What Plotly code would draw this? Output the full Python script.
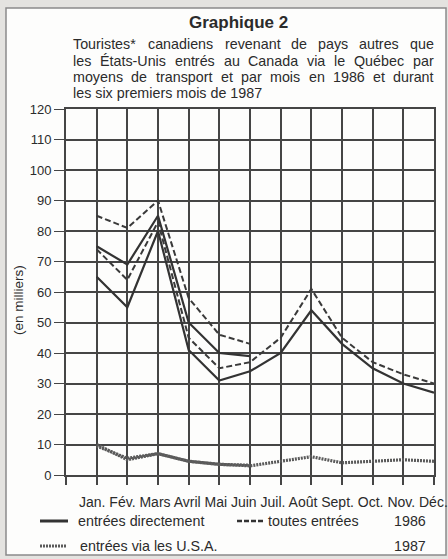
import plotly.graph_objects as go

# ---------------- data ----------------
months = ["Jan.", "Fév.", "Mars", "Avril", "Mai", "Juin", "Juil.", "Août",
          "Sept.", "Oct.", "Nov.", "Déc."]
direct_1986 = [65, 55, 80, 41, 31, 34, 40, 54, 43, 35, 30, 27]
toutes_1986 = [74, 64, 83, 45, 35, 37, 45, 61, 45, 37, 33, 30]
via_usa_1986 = [10, 5, 7, 4.5, 3.5, 3, 4.5, 6, 4, 4.5, 5, 4.5]
direct_1987 = [75, 69, 85, 50, 40, 39]
toutes_1987 = [85, 81, 90, 58, 46, 43]
via_usa_1987 = [9.5, 5.5, 7, 4.5, 3.5, 3.2]
y_ticks = list(range(0, 121, 10))

title = "Graphique 2"
subtitle_lines = [
    "Touristes* canadiens revenant de pays autres que",
    "les  États-Unis entrés au Canada via le Québec par",
    "moyens de transport et par mois en 1986 et durant",
    "les six premiers mois de 1987",
]
y_title = "(en milliers)"
legend_labels = ["entrées directement", "toutes entrées", "entrées via les U.S.A."]
years = ["1986", "1987"]

# ---------------- layout helpers ----------------
W, H = 448, 559
L, R, T, B = 66, 14, 109, 84
PW, PH = W - L - R, H - T - B
FONT = "Liberation Sans, Arial, Helvetica, sans-serif"
INK = "#2b2b2b"
GRID = "#454545"


def px2x(px):
    return (px - L) / PW


def py2y(py):
    return (H - B - py) / PH


# Arial / Liberation Sans advance widths (1/1000 em)
AW = dict(a=556, b=556, c=500, d=556, e=556, f=278, g=556, h=556, i=222, j=222,
          k=500, l=222, m=833, n=556, o=556, p=556, q=556, r=333, s=500, t=278,
          u=556, v=500, w=722, x=500, y=500, z=500)
AW.update({"é": 556, "è": 556, "û": 556, "à": 556, "A": 667, "B": 667, "C": 722,
           "D": 722, "E": 667, "É": 667, "F": 611, "G": 778, "H": 722, "I": 278,
           "J": 500, "K": 667, "L": 556, "M": 833, "N": 722, "O": 778, "P": 667,
           "Q": 778, "R": 722, "S": 667, "T": 611, "U": 722, "V": 667, " ": 278,
           "*": 389, "-": 333, ".": 278, "(": 333, ")": 333})
for dgt in "0123456789":
    AW[dgt] = 556


def text_w(s, size):
    return sum(AW.get(ch, 556) for ch in s) * size / 1000.0


x_pos = list(range(1, len(months) + 1))

fig = go.Figure()

line_solid = dict(color="#333333", width=2.2)
line_dash = dict(color="#3a3a3a", width=2.0, dash="6px,3px")
line_dot = dict(color="#5a5a5a", width=3.2, dash="2px,1px")

fig.add_trace(go.Scatter(x=x_pos, y=via_usa_1986, mode="lines", line=line_dot,
                         name="via 1986"))
fig.add_trace(go.Scatter(x=x_pos[:len(via_usa_1987)], y=via_usa_1987, mode="lines",
                         line=line_dot, name="via 1987"))
fig.add_trace(go.Scatter(x=x_pos, y=direct_1986, mode="lines", line=line_solid,
                         name="dir 1986"))
fig.add_trace(go.Scatter(x=x_pos, y=toutes_1986, mode="lines", line=line_dash,
                         name="tout 1986"))
fig.add_trace(go.Scatter(x=x_pos[:len(direct_1987)], y=direct_1987, mode="lines",
                         line=line_solid, name="dir 1987"))
fig.add_trace(go.Scatter(x=x_pos[:len(toutes_1987)], y=toutes_1987, mode="lines",
                         line=line_dash, name="tout 1987"))

shapes = []
annotations = []

# outer frame (scan border)
shapes.append(dict(type="rect", xref="paper", yref="paper", layer="below",
                   x0=px2x(6), x1=px2x(446), y0=py2y(555), y1=py2y(8),
                   fillcolor="#fdfdfc", line=dict(color="#8a8a8a", width=1.5)))

# title
annotations.append(dict(text="<b>" + title + "</b>", x=px2x(238), y=py2y(22),
                        xref="paper", yref="paper", xanchor="center", yanchor="middle",
                        showarrow=False, font=dict(family=FONT, size=17, color=INK)))

# justified subtitle
SUB_SIZE = 14.3
sub_left, sub_right = 72, 433
sub_y = [44, 60.5, 77, 93]
for li, line in enumerate(subtitle_lines):
    words = line.split()
    if li < len(subtitle_lines) - 1 and len(words) > 1:
        widths = [text_w(wd, SUB_SIZE) for wd in words]
        gap = (sub_right - sub_left - sum(widths)) / (len(words) - 1)
        cx = sub_left
        for wd, ww in zip(words, widths):
            annotations.append(dict(text=wd, x=px2x(cx), y=py2y(sub_y[li]),
                                    xref="paper", yref="paper", xanchor="left",
                                    yanchor="middle", showarrow=False, borderpad=0,
                                    font=dict(family=FONT, size=SUB_SIZE, color=INK)))
            cx += ww + gap
    else:
        annotations.append(dict(text=line, x=px2x(sub_left), y=py2y(sub_y[li]),
                                xref="paper", yref="paper", xanchor="left",
                                yanchor="middle", showarrow=False, borderpad=0,
                                font=dict(family=FONT, size=SUB_SIZE, color=INK)))

# y-axis title
annotations.append(dict(text=y_title, x=px2x(18), y=py2y(300), xref="paper",
                        yref="paper", textangle=-90, showarrow=False,
                        xanchor="center", yanchor="middle",
                        font=dict(family=FONT, size=13.5, color=INK)))

# month labels as a typeset line
annotations.append(dict(text=" ".join(months), x=px2x(78), y=py2y(502),
                        xref="paper", yref="paper", xanchor="left", yanchor="middle",
                        showarrow=False, borderpad=0,
                        font=dict(family=FONT, size=14, color=INK)))

# legend
LEG_SIZE = 14.3
rows = [521, 546]


def leg_line(x0, x1, yy, ln):
    shapes.append(dict(type="line", xref="paper", yref="paper", x0=px2x(x0),
                       x1=px2x(x1), y0=py2y(yy), y1=py2y(yy), line=ln))


def leg_text(txt, x0, yy):
    annotations.append(dict(text=txt, x=px2x(x0), y=py2y(yy), xref="paper",
                            yref="paper", xanchor="left", yanchor="middle",
                            showarrow=False, borderpad=0,
                            font=dict(family=FONT, size=LEG_SIZE, color=INK)))


leg_line(40, 68, rows[0], dict(color="#333333", width=3))
leg_text(legend_labels[0], 77, rows[0])
leg_line(237, 265, rows[0], dict(color="#333333", width=2.4, dash="5px,2px"))
leg_text(legend_labels[1], 267, rows[0])
leg_text(years[0], 393, rows[0])
leg_line(40, 66, rows[1], dict(color="#5a5a5a", width=3, dash="2px,1px"))
leg_text(legend_labels[2], 79, rows[1])
leg_text(years[1], 393, rows[1])

fig.update_layout(
    width=W, height=H, autosize=False,
    margin=dict(l=L, r=R, t=T, b=B, pad=0),
    paper_bgcolor="#e4e3e0", plot_bgcolor="#fdfdfc",
    showlegend=False,
    shapes=shapes, annotations=annotations,
    xaxis=dict(range=[0, 12], tickvals=list(range(0, 13)), showticklabels=False,
               showgrid=True, gridcolor=GRID, gridwidth=1.7, zeroline=False,
               showline=True, linecolor=GRID, linewidth=1.8, mirror=True,
               ticks="outside", ticklen=8, tickwidth=1.6, tickcolor=GRID,
               fixedrange=True),
    yaxis=dict(range=[0, 120], tickvals=y_ticks, showgrid=True, gridcolor=GRID,
               gridwidth=1.7, zeroline=False, showline=True, linecolor=GRID,
               linewidth=1.8, mirror=True, ticks="outside", ticklen=10,
               tickwidth=1.4, tickcolor=GRID,
               tickfont=dict(family=FONT, size=13, color=INK), fixedrange=True),
)

fig.write_html(
    "out.html",
    config={"displayModeBar": False},
    post_script="document.body.style.margin='0';document.body.style.overflow='hidden';",
)
